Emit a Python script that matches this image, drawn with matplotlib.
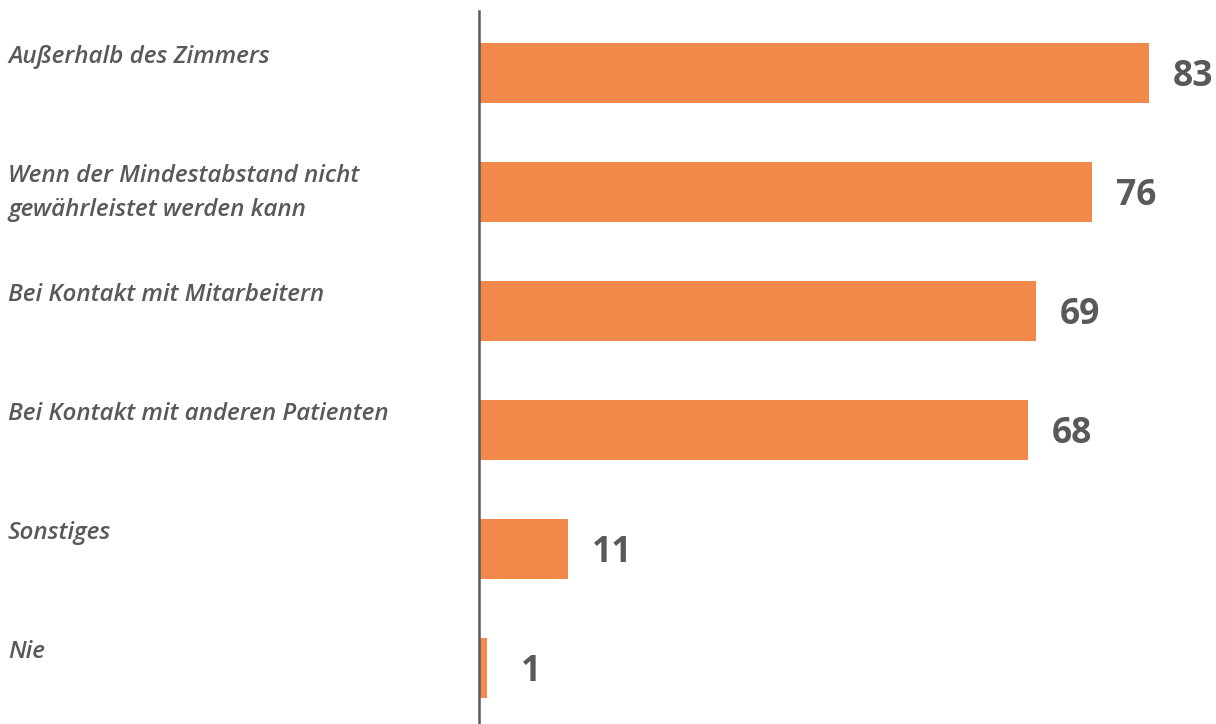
import matplotlib
matplotlib.use("Agg")
import matplotlib.pyplot as plt
from matplotlib.transforms import blended_transform_factory

categories = [
    "Außerhalb des Zimmers",
    "Wenn der Mindestabstand nicht\ngewährleistet werden kann",
    "Bei Kontakt mit Mitarbeitern",
    "Bei Kontakt mit anderen Patienten",
    "Sonstiges",
    "Nie",
]
values = [83, 76, 69, 68, 11, 1]

BAR = "#F2894A"
TXT = "#595959"

plt.rcParams['font.family'] = ['Open Sans', 'DejaVu Sans']

fig = plt.figure(figsize=(12.16, 7.24), dpi=100)
ax = fig.add_axes([479/1216, 0, 1 - 479/1216, 1 - 11/724])

pos = list(range(len(values)))
ax.barh(pos, values, height=0.504, color=BAR, zorder=1)
ax.set_ylim(5.47, -0.52)
ax.set_xlim(0, 83 * (1216 - 479) / (1149 - 479))

for s in ["top", "right", "bottom"]:
    ax.spines[s].set_visible(False)
ax.spines["left"].set_color("#5a5a5a")
ax.spines["left"].set_linewidth(1.8)
ax.spines["left"].set_zorder(3)
ax.set_xticks([])
ax.set_yticks([])

tr = blended_transform_factory(fig.transFigure, ax.transData)
for p, cat in zip(pos, categories):
    ax.text(8/1216, p - 0.235, cat, transform=tr, ha="left", va="top",
            fontsize=17.5, fontstyle="italic", fontweight="semibold",
            color=TXT, linespacing=1.55, clip_on=False)

for p, v in zip(pos, values):
    ax.annotate(str(v), xy=(v, p), xytext=(31.7, -3), textcoords="offset points",
                ha="center", va="center", fontsize=25.5, fontweight="bold",
                color=TXT, annotation_clip=False)

fig.savefig("out.png", dpi=100)
